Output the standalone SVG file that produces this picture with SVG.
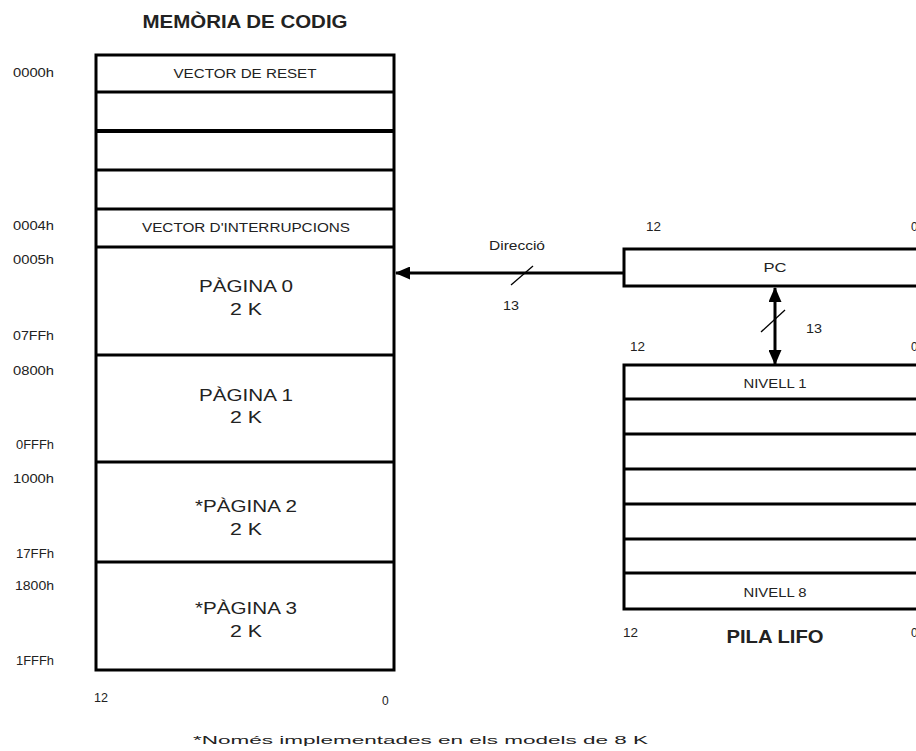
<svg xmlns="http://www.w3.org/2000/svg" width="916" height="751" viewBox="0 0 916 751">
<style>
text{font-family:"Liberation Sans",Arial,sans-serif;fill:#222}
.s{font-size:12px}
.f{font-size:10.5px}
.m{font-size:17px}
.t{font-size:18px;font-weight:bold}
.c{text-anchor:middle}
.box{fill:#fff;stroke:#000;stroke-width:3}
.ln{stroke:#000;stroke-width:3;fill:none}
.th{stroke:#000;stroke-width:1.3;fill:none}
</style>
<defs>
<marker id="ah" markerWidth="15" markerHeight="13" refX="14" refY="6.5" orient="auto" markerUnits="userSpaceOnUse" viewBox="0 0 15 13">
<path d="M0,0 L15,6.5 L0,13 Z" fill="#000"/>
</marker>
</defs>
<text class="t c" x="245" y="28" textLength="205" lengthAdjust="spacingAndGlyphs">MEMÒRIA DE CODIG</text>
<g id="memory">
<rect class="box" x="96" y="55" width="298" height="615"/>
<line class="ln" x1="96" y1="92" x2="394" y2="92"/>
<line class="ln" x1="96" y1="131" x2="394" y2="131" style="stroke-width:4"/>
<line class="ln" x1="96" y1="170" x2="394" y2="170"/>
<line class="ln" x1="96" y1="209" x2="394" y2="209"/>
<line class="ln" x1="96" y1="247" x2="394" y2="247"/>
<line class="ln" x1="96" y1="355" x2="394" y2="355"/>
<line class="ln" x1="96" y1="462" x2="394" y2="462"/>
<line class="ln" x1="96" y1="562" x2="394" y2="562"/>
<text class="s c" x="245" y="78" textLength="143" lengthAdjust="spacingAndGlyphs">VECTOR DE RESET</text>
<text class="s c" x="246" y="232" textLength="208" lengthAdjust="spacingAndGlyphs">VECTOR D'INTERRUPCIONS</text>
<text class="m c" x="246" y="292" textLength="94" lengthAdjust="spacingAndGlyphs">PÀGINA 0</text>
<text class="m c" x="246" y="315" textLength="32" lengthAdjust="spacingAndGlyphs">2 K</text>
<text class="m c" x="246" y="401" textLength="94" lengthAdjust="spacingAndGlyphs">PÀGINA 1</text>
<text class="m c" x="246" y="423" textLength="32" lengthAdjust="spacingAndGlyphs">2 K</text>
<text class="m c" x="246" y="512" textLength="102" lengthAdjust="spacingAndGlyphs">*PÀGINA 2</text>
<text class="m c" x="246" y="535" textLength="32" lengthAdjust="spacingAndGlyphs">2 K</text>
<text class="m c" x="246" y="614" textLength="102" lengthAdjust="spacingAndGlyphs">*PÀGINA 3</text>
<text class="m c" x="246" y="637" textLength="32" lengthAdjust="spacingAndGlyphs">2 K</text>
<text class="s" x="13" y="77" textLength="41" lengthAdjust="spacingAndGlyphs">0000h</text>
<text class="s" x="13" y="230" textLength="41" lengthAdjust="spacingAndGlyphs">0004h</text>
<text class="s" x="13" y="264" textLength="41" lengthAdjust="spacingAndGlyphs">0005h</text>
<text class="s" x="13" y="340" textLength="41" lengthAdjust="spacingAndGlyphs">07FFh</text>
<text class="s" x="13" y="375" textLength="41" lengthAdjust="spacingAndGlyphs">0800h</text>
<text class="s" x="16" y="449" textLength="38" lengthAdjust="spacingAndGlyphs">0FFFh</text>
<text class="s" x="13" y="483" textLength="41" lengthAdjust="spacingAndGlyphs">1000h</text>
<text class="s" x="16" y="558" textLength="38" lengthAdjust="spacingAndGlyphs">17FFh</text>
<text class="s" x="15" y="590" textLength="39" lengthAdjust="spacingAndGlyphs">1800h</text>
<text class="s" x="16" y="665" textLength="38" lengthAdjust="spacingAndGlyphs">1FFFh</text>
<text class="s" x="94" y="702" textLength="14" lengthAdjust="spacingAndGlyphs">12</text>
<text class="s" x="382" y="705">0</text>
</g>
<g id="pc">
<rect class="box" x="624" y="249" width="300" height="37"/>
<text class="s c" x="775" y="272" textLength="23" lengthAdjust="spacingAndGlyphs">PC</text>
<text class="s" x="646" y="231" textLength="15" lengthAdjust="spacingAndGlyphs">12</text>
<text class="s" x="911" y="231">0</text>
</g>
<g id="stack">
<rect class="box" x="624" y="365" width="300" height="244"/>
<line class="ln" x1="624" y1="399" x2="924" y2="399"/>
<line class="ln" x1="624" y1="434" x2="924" y2="434"/>
<line class="ln" x1="624" y1="469" x2="924" y2="469"/>
<line class="ln" x1="624" y1="504" x2="924" y2="504"/>
<line class="ln" x1="624" y1="539" x2="924" y2="539"/>
<line class="ln" x1="624" y1="573" x2="924" y2="573"/>
<text class="s c" x="775" y="388" textLength="63" lengthAdjust="spacingAndGlyphs">NIVELL 1</text>
<text class="s c" x="775" y="597" textLength="63" lengthAdjust="spacingAndGlyphs">NIVELL 8</text>
<text class="s" x="630" y="351" textLength="15" lengthAdjust="spacingAndGlyphs">12</text>
<text class="s" x="911" y="351">0</text>
<text class="s" x="623" y="637" textLength="15" lengthAdjust="spacingAndGlyphs">12</text>
<text class="t c" x="775" y="643" textLength="97" lengthAdjust="spacingAndGlyphs">PILA LIFO</text>
<text class="s" x="911" y="637">0</text>
</g>
<g id="connectors">
<line class="ln" x1="624" y1="273" x2="396" y2="273" marker-end="url(#ah)"/>
<line class="th" x1="511" y1="285" x2="533" y2="266"/>
<text class="s c" x="517" y="250" textLength="56" lengthAdjust="spacingAndGlyphs">Direcció</text>
<text class="s" x="503" y="310" textLength="16" lengthAdjust="spacingAndGlyphs">13</text>
<line class="ln" x1="775" y1="325" x2="775" y2="288" marker-end="url(#ah)"/>
<line class="ln" x1="775" y1="325" x2="775" y2="364" marker-end="url(#ah)"/>
<line class="th" x1="761" y1="332" x2="785" y2="310"/>
<text class="s" x="806" y="333" textLength="16" lengthAdjust="spacingAndGlyphs">13</text>
</g>
<text class="f" x="193" y="744" textLength="455" lengthAdjust="spacingAndGlyphs">*Només implementades en els models de 8 K</text>
</svg>
